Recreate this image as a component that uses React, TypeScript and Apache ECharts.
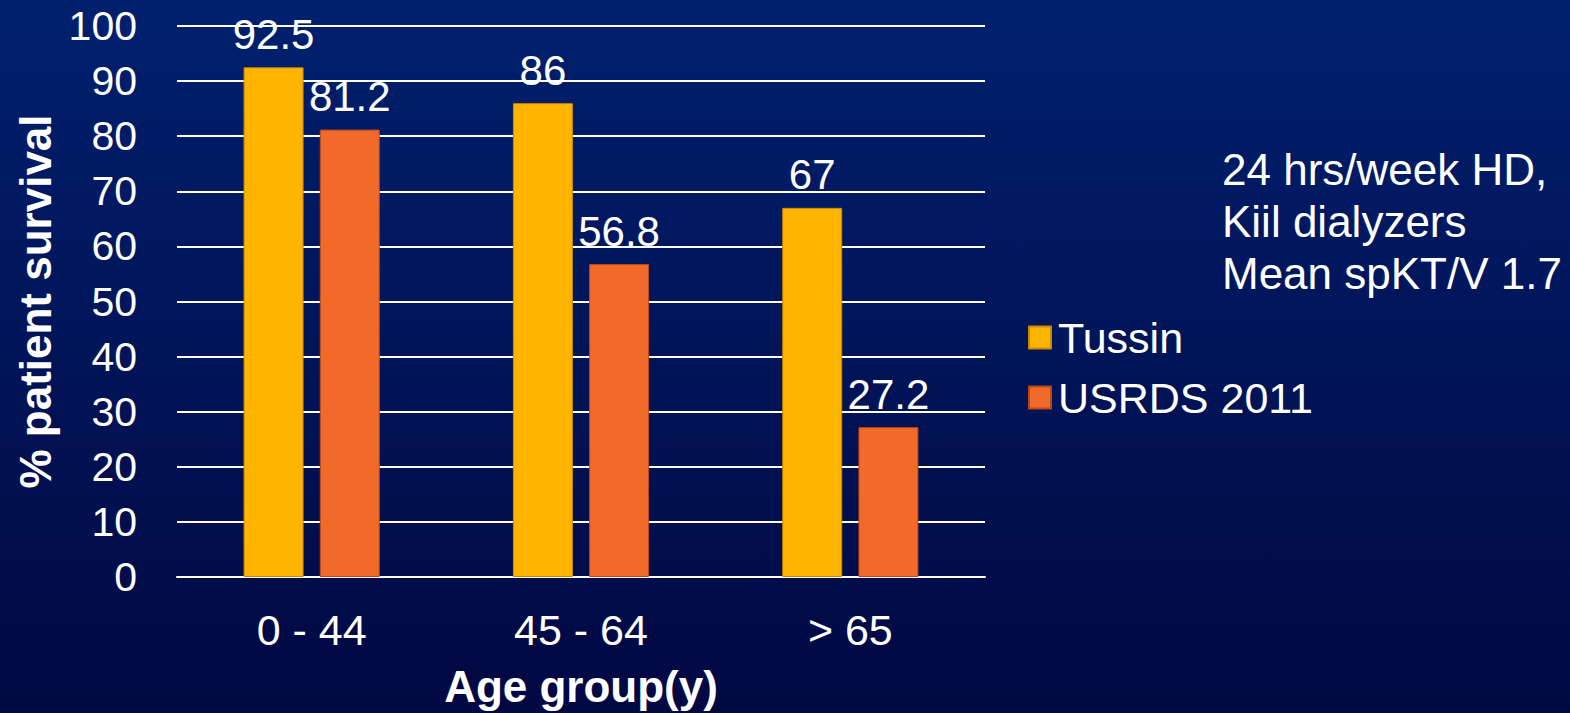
import React, { useEffect, useRef } from "react";
import * as echarts from "echarts";

const categories = ["0 - 44", "45 - 64", "> 65"];
const tussin = [92.5, 86, 67];
const usrds = [81.2, 56.8, 27.2];
const seriesNames = ["Tussin", "USRDS 2011"];
const noteLines = ["24 hrs/week HD,", "Kiil dialyzers", "Mean spKT/V 1.7"];
const yAxisTitle = "% patient survival";
const xAxisTitle = "Age group(y)";

const FONT = "'Liberation Sans', Arial, Helvetica, sans-serif";

export default function App() {
  const ref = useRef<HTMLDivElement>(null);
  useEffect(() => {
    document.body.style.margin = "0";
    const chart = echarts.init(ref.current!, null, { renderer: "svg" });
    const labelStyle = {
      show: true,
      position: "top",
      distance: 12,
      color: "#ffffff",
      fontSize: 42,
      fontFamily: FONT,
    };
    chart.setOption({
      animation: false,
      backgroundColor: new echarts.graphic.LinearGradient(0, 0, 0, 1, [
        { offset: 0, color: "#00206E" },
        { offset: 1, color: "#020842" },
      ]),
      textStyle: { fontFamily: FONT },
      grid: { left: 177, right: 585, top: 26, bottom: 134, containLabel: false },
      legend: {
        orient: "vertical",
        left: 1023,
        top: 311,
        itemWidth: 22,
        itemHeight: 22,
        itemGap: 17,
        icon: "rect",
        textStyle: { color: "#ffffff", fontSize: 43, fontFamily: FONT, padding: [0, 0, 0, 2] },
        data: seriesNames,
      },
      xAxis: {
        type: "category",
        data: categories,
        axisLine: { show: true, lineStyle: { color: "#ffffff", width: 2 } },
        axisTick: { show: false },
        axisLabel: { color: "#ffffff", fontSize: 43, margin: 31, fontFamily: FONT },
        name: xAxisTitle,
        nameLocation: "middle",
        nameGap: 87,
        nameTextStyle: { color: "#ffffff", fontSize: 44, fontWeight: "bold", fontFamily: FONT },
      },
      yAxis: {
        type: "value",
        min: 0,
        max: 100,
        interval: 10,
        axisLine: { show: false },
        axisTick: { show: false },
        splitLine: { lineStyle: { color: "#ffffff", width: 2 } },
        axisLabel: { color: "#ffffff", fontSize: 41, margin: 40, fontFamily: FONT },
        name: yAxisTitle,
        nameLocation: "middle",
        nameGap: 117,
        nameRotate: 90,
        nameTextStyle: { color: "#ffffff", fontSize: 44, fontWeight: "bold", fontFamily: FONT },
      },
      series: [
        {
          name: seriesNames[0],
          type: "bar",
          data: tussin,
          barWidth: 60,
          barGap: "27%",
          itemStyle: { color: "#FFB500", borderColor: "#C98A00", borderWidth: 1 },
          label: labelStyle,
        },
        {
          name: seriesNames[1],
          type: "bar",
          data: usrds,
          barWidth: 60,
          itemStyle: { color: "#F26A29", borderColor: "#B84A18", borderWidth: 1 },
          label: labelStyle,
        },
      ],
      graphic: noteLines.map((t, i) => ({
        type: "text",
        left: 1222,
        top: 147 + i * 52,
        style: { text: t, fill: "#ffffff", fontSize: 44, fontFamily: FONT },
      })),
    });
    return () => chart.dispose();
  }, []);
  return <div ref={ref} style={{ width: 1570, height: 713 }} />;
}
